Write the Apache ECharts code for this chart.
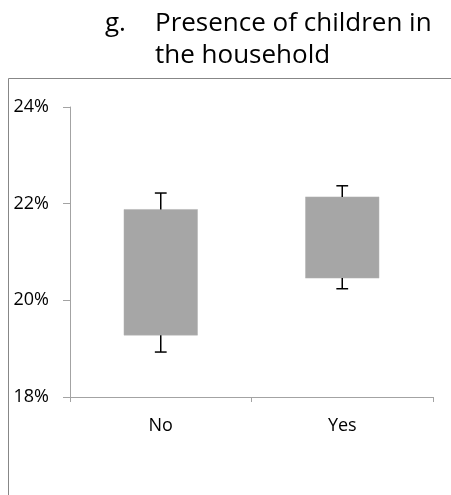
<!DOCTYPE html>
<html>
<head>
<meta charset="utf-8">
<script src="https://cdn.jsdelivr.net/npm/echarts@6/dist/echarts.min.js"></script>
<style>
  html, body { margin: 0; padding: 0; background: #fff; }
  #chart { width: 451px; height: 495px; }
</style>
</head>
<body>
<div id="chart"></div>
<script>
// Share of respondents by presence of children in the household
const categories = ['No', 'Yes'];
const whiskerLow  = [0.1893, 0.2024];
const boxLow      = [0.1928, 0.2046];
const boxHigh     = [0.2188, 0.2214];
const whiskerHigh = [0.2222, 0.2237];
const yTicks = { min: 0.18, max: 0.24, step: 0.02 };

const FONT = '"Open Sans", "Liberation Sans", sans-serif';
const axisGrey = '#a3a3a3';

const boxData = categories.map((c, i) => [i, whiskerLow[i], boxLow[i], boxHigh[i], whiskerHigh[i]]);

const chart = echarts.init(document.getElementById('chart'), null, { renderer: 'canvas' });

chart.setOption({
  animation: false,
  backgroundColor: '#fff',
  title: [
    { text: 'g.', left: 105, top: 8, padding: 0,
      textStyle: { fontFamily: FONT, fontSize: 26, fontWeight: 'normal', color: '#000', lineHeight: 32 } },
    { text: 'Presence of children in\nthe household', left: 155, top: 8, padding: 0,
      textStyle: { fontFamily: FONT, fontSize: 26, fontWeight: 'normal', color: '#000', lineHeight: 32 } }
  ],
  graphic: [
    { type: 'rect', shape: { x: 8.5, y: 78.5, width: 470, height: 440 },
      style: { fill: null, stroke: '#878787', lineWidth: 1 }, z: 0 }
  ],
  grid: { left: 70, right: 18, top: 107, bottom: 98 },
  xAxis: {
    type: 'category',
    data: categories,
    boundaryGap: true,
    axisLine: { lineStyle: { color: axisGrey, width: 1 } },
    axisTick: { show: true, length: 5, lineStyle: { color: axisGrey } },
    axisLabel: { fontFamily: FONT, fontSize: 18, color: '#000', margin: 20 },
    splitLine: { show: false }
  },
  yAxis: {
    type: 'value',
    min: yTicks.min,
    max: yTicks.max,
    interval: yTicks.step,
    axisLine: { show: true, lineStyle: { color: axisGrey, width: 1 } },
    axisTick: { show: true, length: 7, lineStyle: { color: axisGrey } },
    splitLine: { show: false },
    axisLabel: {
      fontFamily: FONT, fontSize: 18, color: '#000', margin: 21,
      formatter: v => Math.round(v * 100) + '%'
    }
  },
  series: [{
    type: 'custom',
    data: boxData,
    encode: { x: 0, y: [1, 2, 3, 4] },
    renderItem: function (params, api) {
      const i = api.value(0);
      const pLo = api.coord([i, api.value(1)]);
      const pQ1 = api.coord([i, api.value(2)]);
      const pQ3 = api.coord([i, api.value(3)]);
      const pHi = api.coord([i, api.value(4)]);
      const band = api.size([1, 0])[0];
      const boxW = band * 0.405;
      const capW = band * 0.065;
      const x = pQ1[0];
      const lineStyle = { stroke: '#000', lineWidth: 1.5 };
      return {
        type: 'group',
        children: [
          { type: 'rect', shape: { x: x - boxW / 2, y: pQ3[1], width: boxW, height: pQ1[1] - pQ3[1] },
            style: { fill: '#a6a6a6', stroke: '#b3b3b3', lineWidth: 0.5 } },
          { type: 'line', shape: { x1: x, y1: pQ3[1], x2: x, y2: pHi[1] }, style: lineStyle },
          { type: 'line', shape: { x1: x - capW / 2, y1: pHi[1], x2: x + capW / 2, y2: pHi[1] }, style: lineStyle },
          { type: 'line', shape: { x1: x, y1: pQ1[1], x2: x, y2: pLo[1] }, style: lineStyle },
          { type: 'line', shape: { x1: x - capW / 2, y1: pLo[1], x2: x + capW / 2, y2: pLo[1] }, style: lineStyle }
        ]
      };
    }
  }]
});
</script>
</body>
</html>
